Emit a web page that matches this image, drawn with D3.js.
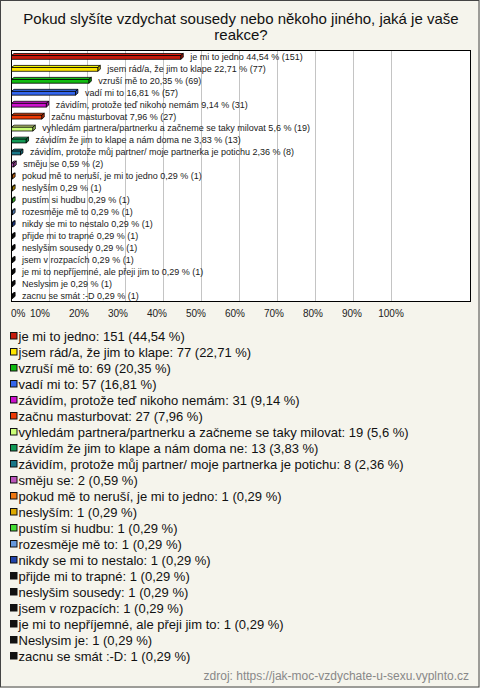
<!DOCTYPE html>
<html><head><meta charset="utf-8">
<script src="https://cdn.jsdelivr.net/npm/d3@7"></script>
<style>html,body{margin:0;padding:0;background:#f5f4ec;}svg{display:block;}</style>
</head><body>
<script>
const categories = [
  "je mi to jedno",
  "jsem rád/a, že jim to klape",
  "vzruší mě to",
  "vadí mi to",
  "závidím, protože teď nikoho nemám",
  "začnu masturbovat",
  "vyhledám partnera/partnerku a začneme se taky milovat",
  "závidím že jim to klape a nám doma ne",
  "závidím, protože můj partner/ moje partnerka je potichu",
  "směju se",
  "pokud mě to neruší, je mi to jedno",
  "neslyším",
  "pustím si hudbu",
  "rozesměje mě to",
  "nikdy se mi to nestalo",
  "přijde mi to trapné",
  "neslyšim sousedy",
  "jsem v rozpacích",
  "je mi to nepříjemné, ale přeji jim to",
  "Neslysim je",
  "zacnu se smát :-D"
];
const counts = [151,77,69,57,31,27,19,13,8,2,1,1,1,1,1,1,1,1,1,1,1];
const percents = [44.54,22.71,20.35,16.81,9.14,7.96,5.6,3.83,2.36,0.59,0.29,0.29,0.29,0.29,0.29,0.29,0.29,0.29,0.29,0.29,0.29];
const colors = ["#c41a0c","#ffe600","#11bb11","#3366ee","#cc11cc","#ee3a05","#ccff77","#119955","#1a7788","#bb55bb","#ee7711","#ddaa00","#44dd33","#6699dd","#2244aa",
  "#111","#111","#111","#111","#111","#111"];
const tickValues = [0,10,20,30,40,50,60,70,80,90,100];
const titleLines = ["Pokud slyšíte vzdychat sousedy nebo někoho jiného, jaká je vaše","reakce?"];
const source = "zdroj: https://jak-moc-vzdychate-u-sexu.vyplnto.cz";

const W = 480, H = 688;
const fmt = v => String(v).replace(".", ",");
const svg = d3.select("body").append("svg").attr("width", W).attr("height", H);

svg.append("rect").attr("x",0.5).attr("y",0.5).attr("width",W-1.5).attr("height",H-1.5)
  .attr("fill","#f5f4ec").attr("stroke","#444");

// title
svg.append("g").selectAll("text").data(titleLines).join("text")
  .attr("x", 241).attr("y", (d,i) => 23.5 + i*16.5)
  .attr("text-anchor","middle").attr("font-family","Liberation Sans, Arial, sans-serif")
  .attr("font-size", 15).attr("fill","#111").text(d => d);

const plot = {left: 11, right: 470.5, top: 50.5, bottom: 301.5};
const x = d3.scaleLinear([0,100],[11.5,391.5]);
const y = d3.scaleBand(categories,[plot.top, plot.bottom]);

svg.append("rect").attr("x",plot.left+0.5).attr("y",plot.top).attr("width",plot.right-plot.left-0.5)
  .attr("height",plot.bottom-plot.top).attr("fill","#fff");

// gridlines
svg.append("g").selectAll("line").data(tickValues.filter(v=>v>0)).join("line")
  .attr("x1", d=>x(d)).attr("x2", d=>x(d)).attr("y1", plot.top).attr("y2", plot.bottom)
  .attr("stroke","#c4c4c4").attr("stroke-width",1);

svg.append("rect").attr("x",plot.left+0.5).attr("y",plot.top).attr("width",plot.right-plot.left-0.5)
  .attr("height",plot.bottom-plot.top).attr("fill","none").attr("stroke","#000");

// bars
const data = categories.map((c,i)=>({c, n: counts[i], p: percents[i], col: colors[i]}));
const d3d = 2.5;
const bars = svg.append("g").selectAll("g").data(data).join("g");
bars.each(function(d){
  const g = d3.select(this);
  const x0 = x(0), x1 = x(d.p), c = y(d.c) + y.bandwidth()/2 + 0.3;
  const yt = c - 1.3, yb = c + 2.5;
  const base = d3.color(d.col);
  g.append("path").attr("d", `M${x0},${yt}L${x0+d3d},${yt-2}L${x1+d3d},${yt-2}L${x1},${yt}Z`)
    .attr("fill", base.brighter(0.4)).attr("stroke","#000").attr("stroke-width",0.8).attr("stroke-linejoin","round");
  g.append("path").attr("d", `M${x1},${yt}L${x1+d3d},${yt-2}L${x1+d3d},${yb-2}L${x1},${yb}Z`)
    .attr("fill", base.darker(0.6)).attr("stroke","#000").attr("stroke-width",0.8).attr("stroke-linejoin","round");
  g.append("rect").attr("x",x0).attr("y",yt).attr("width",x1-x0).attr("height",yb-yt)
    .attr("fill", d.col).attr("stroke","#000").attr("stroke-width",0.8);
  g.append("text").attr("x", x1 + 9.5).attr("y", c + 3)
    .attr("font-family","Liberation Sans, Arial, sans-serif").attr("font-size",9).attr("fill","#1a1a1a")
    .text(`${d.c} ${fmt(d.p)} % (${d.n})`);
});

// axis labels
const labelScale = d3.scaleLinear([0,100],[x(0)-11, x(100)-1]);
const axis = svg.append("g").attr("transform",`translate(0,${plot.bottom})`)
  .call(d3.axisBottom(labelScale).tickValues(tickValues).tickSize(0).tickPadding(8).tickFormat(d=>d+"%"));
axis.select(".domain").remove();
axis.selectAll("text").attr("font-family","Liberation Sans, Arial, sans-serif").attr("font-size",10).attr("fill","#222")
  .attr("dy","0.71em");
axis.selectAll(".tick").filter(d=>d===0).attr("transform",`translate(${x(0)-0.5},0)`).select("text").attr("text-anchor","start");

// legend
const ly = d3.scaleBand(categories,[328,664]);
const leg = svg.append("g").selectAll("g").data(data).join("g")
  .attr("transform", d=>`translate(0,${ly(d.c)+ly.bandwidth()/2})`);
leg.append("rect").attr("x",10.5).attr("y",-3.5).attr("width",6.5).attr("height",6.5)
  .attr("fill",d=>d.col).attr("stroke","#111").attr("stroke-width",1);
leg.append("text").attr("x",18.5).attr("y",4.6)
  .attr("font-family","Liberation Sans, Arial, sans-serif").attr("font-size",13).attr("fill","#111")
  .text(d=>`${d.c}: ${d.n} (${fmt(d.p)} %)`);

svg.append("text").attr("x",469).attr("y",680).attr("text-anchor","end")
  .attr("font-family","Liberation Sans, Arial, sans-serif").attr("font-size",12).attr("fill","#888").text(source);
</script>
</body></html>
